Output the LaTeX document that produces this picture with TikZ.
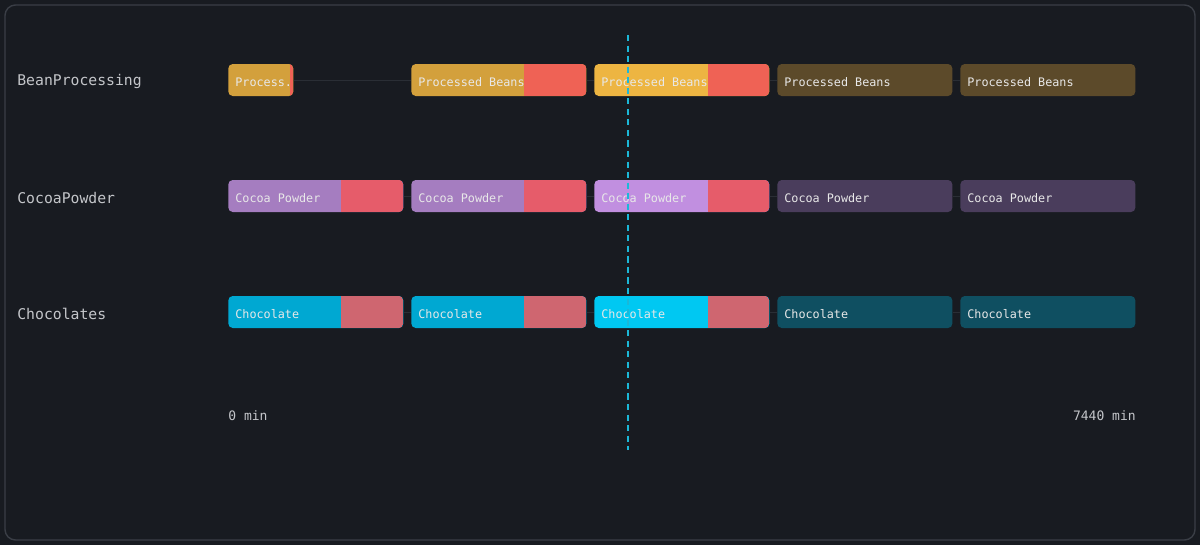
\documentclass[tikz,border=0pt]{standalone}
\usepackage{fontspec}
\setmonofont{DejaVu Sans Mono}
\usetikzlibrary{positioning}
\definecolor{bgc}{HTML}{181B21}
\definecolor{framec}{HTML}{3A3E46}
\definecolor{labc}{HTML}{C4C6CA}
\definecolor{txtc}{HTML}{E8E8E8}
\definecolor{linkc}{HTML}{2A2E35}
\definecolor{beanc}{HTML}{D3A03C}\definecolor{beanhi}{HTML}{EDB542}\definecolor{beanlo}{HTML}{5C4A2A}\definecolor{beanred}{HTML}{EF6255}
\definecolor{cocoac}{HTML}{A57DC0}\definecolor{cocoahi}{HTML}{C18FE0}\definecolor{cocoalo}{HTML}{4A3D5C}\definecolor{cocoared}{HTML}{E65C6A}
\definecolor{chocc}{HTML}{00A8D2}\definecolor{chochi}{HTML}{00C8F2}\definecolor{choclo}{HTML}{0F4F61}\definecolor{chocred}{HTML}{CF6670}
\definecolor{nowc}{HTML}{1BB8D8}
\tikzset{
  bar/.style={anchor=west, minimum height=32*0.02cm, inner sep=0pt, rounded corners=2.5pt},
  late/.style 2 args={path picture={\fill[#2, sharp corners] ([xshift=-#1*0.02cm]path picture bounding box.south east) rectangle (path picture bounding box.north east);}},
  bartext/.style={anchor=west, font=\ttfamily\fontsize{6.7}{8}\selectfont, text=txtc, inner sep=0pt, yshift=-2*0.02cm},
  rowlabel/.style={anchor=west, font=\ttfamily\fontsize{8.4}{10}\selectfont, text=labc, inner sep=0pt, yshift=-1.5*0.02cm},
  axislabel/.style={font=\ttfamily\fontsize{7.4}{9}\selectfont, text=labc, inner sep=0pt, yshift=-1.5*0.02cm},
  link/.style={draw=linkc, line width=0.5pt}
}
\begin{document}
\begin{tikzpicture}[x=0.02cm,y=-0.02cm]
\fill[bgc] (0,0) rectangle (1200,545);
\draw[framec, line width=0.8pt, rounded corners=6pt] (5,5) rectangle (1195,540);

% Row labels
\node[rowlabel] (lbean) at (17,80) {BeanProcessing};
\node[rowlabel] (lcocoa) at (17,196) {CocoaPowder};
\node[rowlabel] (lchoc) at (17,312) {Chocolates};

% BeanProcessing
\node[bar, fill=beanc, minimum width=65*0.02cm, late={3}{beanred}] (b1) at (228,80) {};
\node[bar, fill=beanc, minimum width=175*0.02cm, late={62}{beanred}] (b2) at (411,80) {};
\node[bar, fill=beanhi, minimum width=175*0.02cm, late={61}{beanred}] (b3) at (594,80) {};
\node[bar, fill=beanlo, minimum width=175*0.02cm] (b4) at (777,80) {};
\node[bar, fill=beanlo, minimum width=175*0.02cm] (b5) at (960,80) {};
\draw[link] (b1) -- (b2); \draw[link] (b2) -- (b3); \draw[link] (b3) -- (b4); \draw[link] (b4) -- (b5);
\node[bartext] at ([xshift=7*0.02cm]b1.west) {Process.};
\foreach \n in {b2,b3,b4,b5} \node[bartext] at ([xshift=7*0.02cm]\n.west) {Processed Beans};

% CocoaPowder
\node[bar, fill=cocoac, minimum width=175*0.02cm, late={62}{cocoared}] (c1) at (228,196) {};
\node[bar, fill=cocoac, minimum width=175*0.02cm, late={62}{cocoared}] (c2) at (411,196) {};
\node[bar, fill=cocoahi, minimum width=175*0.02cm, late={61}{cocoared}] (c3) at (594,196) {};
\node[bar, fill=cocoalo, minimum width=175*0.02cm] (c4) at (777,196) {};
\node[bar, fill=cocoalo, minimum width=175*0.02cm] (c5) at (960,196) {};
\draw[link] (c1) -- (c2); \draw[link] (c2) -- (c3); \draw[link] (c3) -- (c4); \draw[link] (c4) -- (c5);
\foreach \n in {c1,c2,c3,c4,c5} \node[bartext] at ([xshift=7*0.02cm]\n.west) {Cocoa Powder};

% Chocolates
\node[bar, fill=chocc, minimum width=175*0.02cm, late={62}{chocred}] (d1) at (228,312) {};
\node[bar, fill=chocc, minimum width=175*0.02cm, late={62}{chocred}] (d2) at (411,312) {};
\node[bar, fill=chochi, minimum width=175*0.02cm, late={61}{chocred}] (d3) at (594,312) {};
\node[bar, fill=choclo, minimum width=175*0.02cm] (d4) at (777,312) {};
\node[bar, fill=choclo, minimum width=175*0.02cm] (d5) at (960,312) {};
\draw[link] (d1) -- (d2); \draw[link] (d2) -- (d3); \draw[link] (d3) -- (d4); \draw[link] (d4) -- (d5);
\foreach \n in {d1,d2,d3,d4,d5} \node[bartext] at ([xshift=7*0.02cm]\n.west) {Chocolate};

% Axis
\node[axislabel, anchor=west] (t0) at (228,414) {0 min};
\node[axislabel, anchor=east] (t1) at (1136,414) {7440 min};

% Now line
\coordinate (nowtop) at (628,35); \coordinate (nowbot) at (628,450);
\draw[nowc, line width=1pt, dash pattern=on 3.5pt off 2.5pt] (nowtop) -- (nowbot);
\end{tikzpicture}
\end{document}
